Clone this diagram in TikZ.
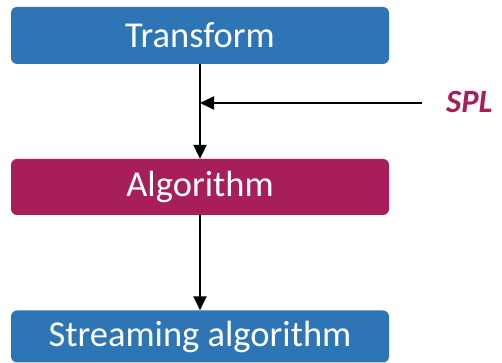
\documentclass[tikz,border=0pt]{standalone}
\usepackage{fontspec}
\setmainfont{Carlito}
\usetikzlibrary{arrows.meta}
\definecolor{boxblue}{RGB}{46,117,182}
\definecolor{boxmagenta}{RGB}{168,30,90}
\begin{document}
\begin{tikzpicture}[x=1pt,y=1pt,
  stage/.style={rounded corners=6pt, minimum width=378pt, inner sep=0pt,
    text=white, font=\fontsize{36.5}{42}\selectfont},
  flow/.style={line width=2pt, -{Triangle[length=14pt,width=13pt]}}]
\useasboundingbox (0,0) rectangle (502,363);
\node[stage, fill=boxblue, minimum height=57pt] (transform) at (200,327.5) {Transform};
\node[stage, fill=boxmagenta, minimum height=56pt] (algo) at (200,176) {Algorithm};
\node[stage, fill=boxblue, minimum height=52pt] (stream) at (200,26.5) {Streaming algorithm};
\node[anchor=base west, inner sep=0pt, text=boxmagenta,
  font=\fontsize{32.5}{38}\selectfont\bfseries\itshape] (spl) at (446,250) {SPL};
\coordinate (splend) at (422,260);
\coordinate (join) at (200,260);
\draw[flow] (transform.south) -- (algo.north);
\draw[flow] (splend) -- (join);
\draw[flow] (algo.south) -- (stream.north);
\end{tikzpicture}
\end{document}
